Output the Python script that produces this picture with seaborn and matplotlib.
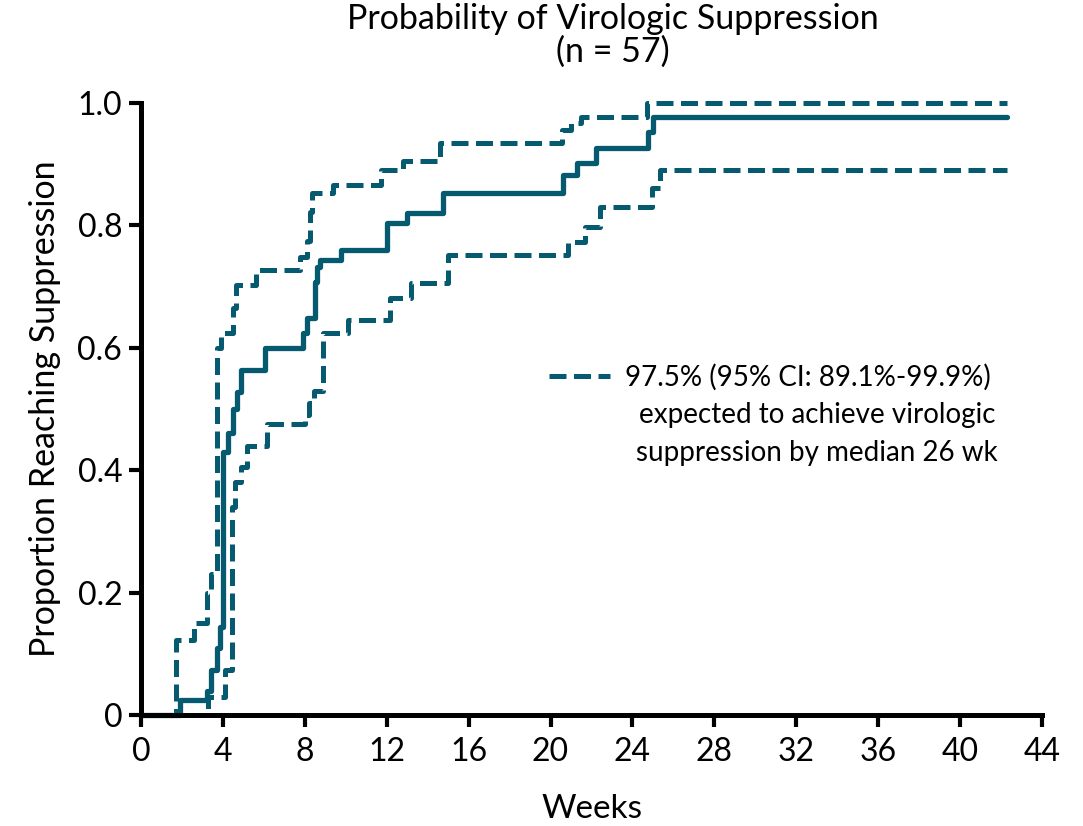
import matplotlib
matplotlib.use("Agg")
import matplotlib.pyplot as plt
from matplotlib.lines import Line2D
import seaborn as sns
import pandas as pd

# Kaplan-Meier style cumulative probability of reaching virologic suppression
est_weeks = [0, 1.9, 3.2, 3.4, 3.7, 3.85, 4.0, 4.25, 4.5, 4.7, 4.9, 6.05, 7.9, 8.1,
             8.5, 8.6, 8.75, 9.75, 12.0, 13.0, 14.75, 20.6, 21.3, 22.2, 24.75, 25.0,
             42.3]
est_prop = [0, 0.025, 0.04, 0.074, 0.11, 0.144, 0.43, 0.46, 0.50, 0.528, 0.564,
            0.60, 0.625, 0.649, 0.707, 0.732, 0.743, 0.76, 0.804, 0.82, 0.853,
            0.882, 0.902, 0.926, 0.953, 0.977, 0.977]

upper_weeks = [0, 1.7, 2.6, 3.2, 3.4, 3.7, 3.9, 4.5, 4.65, 5.6, 7.76, 8.1, 8.25,
               8.35, 9.4, 11.7, 12.8, 14.6, 20.55, 21.0, 21.5, 24.7, 42.3]
upper_prop = [0, 0.122, 0.15, 0.20, 0.23, 0.60, 0.625, 0.665, 0.703, 0.727, 0.748,
              0.775, 0.822, 0.853, 0.866, 0.89, 0.905, 0.935, 0.956, 0.968, 0.977,
              1.0, 1.0]

lower_weeks = [0, 3.25, 4.1, 4.45, 4.6, 4.9, 5.2, 6.15, 8.0, 8.2, 8.45, 8.9, 10.1,
               12.15, 13.2, 15.0, 20.85, 21.7, 22.4, 24.95, 25.35, 42.3]
lower_prop = [0, 0.03, 0.074, 0.34, 0.38, 0.405, 0.44, 0.475, 0.49, 0.51, 0.53,
              0.625, 0.645, 0.681, 0.706, 0.752, 0.773, 0.797, 0.83, 0.861, 0.89,
              0.89]

x_ticks = list(range(0, 45, 4))
y_ticks = [0, 0.2, 0.4, 0.6, 0.8, 1.0]
y_tick_labels = ["0", "0.2", "0.4", "0.6", "0.8", "1.0"]

title_text = "Probability of Virologic Suppression\n(n = 57)"
legend_label = "97.5% (95% CI: 89.1%-99.9%)"
legend_note = ["expected to achieve virologic", "suppression by median 26 wk"]

TEAL = "#055a70"

sns.set_theme(style="ticks")
plt.rcParams["font.family"] = ["Lato", "DejaVu Sans"]

fig = plt.figure(figsize=(10.83, 8.26), dpi=100)
ax = fig.add_axes([141 / 1083, 1 - 715 / 826, (1042 - 141) / 1083, (715 - 103) / 826])

est = pd.DataFrame({"week": est_weeks, "prop": est_prop})
upper = pd.DataFrame({"week": upper_weeks, "prop": upper_prop})
lower = pd.DataFrame({"week": lower_weeks, "prop": lower_prop})

dash = (3.4, 1.5)
sns.lineplot(data=upper, x="week", y="prop", ax=ax, drawstyle="steps-post",
             estimator=None, color=TEAL, lw=3.6, clip_on=False)
sns.lineplot(data=lower, x="week", y="prop", ax=ax, drawstyle="steps-post",
             estimator=None, color=TEAL, lw=3.6, clip_on=False)
sns.lineplot(data=est, x="week", y="prop", ax=ax, drawstyle="steps-post",
             estimator=None, color=TEAL, lw=3.8, clip_on=False)
for ln in ax.lines[:2]:
    ln.set_linestyle((0, dash))

ax.set_xlim(0, 44)
ax.set_ylim(0, 1.0)
ax.set_xticks(x_ticks)
ax.set_xticklabels([str(t) for t in x_ticks])
ax.set_yticks(y_ticks)
ax.set_yticklabels(y_tick_labels)

for side in ("top", "right"):
    ax.spines[side].set_visible(False)
for side in ("left", "bottom"):
    ax.spines[side].set_linewidth(3.6)
    ax.spines[side].set_color("black")
    ax.spines[side].set_capstyle("projecting")
ax.tick_params(axis="both", length=8.5, width=3, color="black",
               labelsize=23, labelcolor="black")
ax.tick_params(axis="x", pad=7)
ax.tick_params(axis="y", pad=5)

ax.set_xlabel("Weeks", fontsize=24, labelpad=20, color="black")
ax.set_ylabel("Proportion Reaching Suppression", fontsize=24.5, labelpad=12,
              color="black")

fig.text(613 / 1083, 1 - 3 / 826, title_text, ha="center", va="top",
         fontsize=24.5, linespacing=1.02, color="black")

handle = Line2D([], [], color=TEAL, lw=3.6, linestyle=(0, dash))
leg = ax.legend([handle], [legend_label], loc="center left",
                bbox_to_anchor=((549 - 141) / 901, (715 - 377) / 612),
                frameon=False, fontsize=20, handlelength=2.2, handletextpad=0.55,
                borderaxespad=0, borderpad=0, labelcolor="black")
for line_text, y_px in zip(legend_note, (415, 453)):
    ax.text((817 - 141) / 901, (715 - y_px) / 612, line_text, transform=ax.transAxes,
            ha="center", va="center", fontsize=20, color="black")

fig.savefig("out.png", dpi=100)
